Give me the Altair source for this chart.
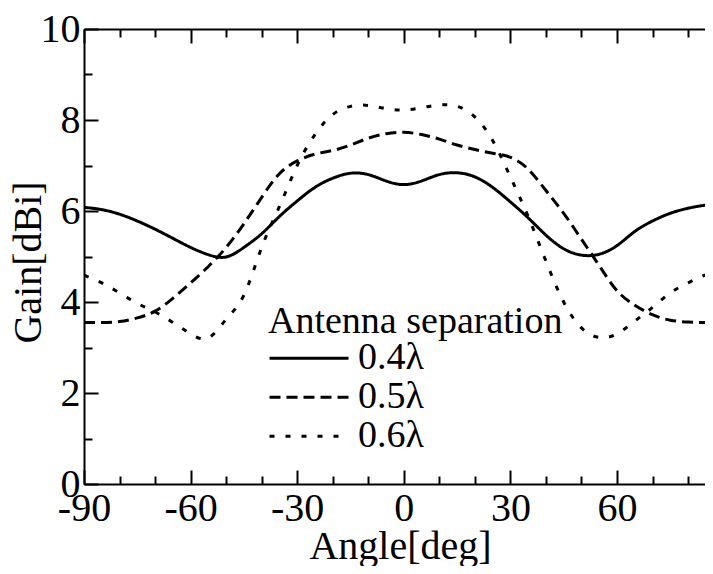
import altair as alt
import pandas as pd

angles = [-90, -85, -80, -75, -70, -65, -60, -55, -50, -45, -40, -35, -30, -25, -20, -15, -10, -5,
          0, 5, 10, 15, 20, 25, 30, 35, 40, 45, 50, 55, 60, 65, 70, 75, 80, 85, 90]

gain_04 = [6.08, 6.03, 5.93, 5.78, 5.60, 5.40, 5.20, 5.04, 4.99, 5.20, 5.50, 5.88, 6.22, 6.52, 6.72, 6.83, 6.80, 6.66,
           6.58, 6.66, 6.80, 6.84, 6.75, 6.52, 6.20, 5.85, 5.47, 5.17, 5.03, 5.05, 5.24, 5.55, 5.78, 5.95, 6.06, 6.13, 6.17]

gain_05 = [3.55, 3.55, 3.57, 3.65, 3.80, 4.08, 4.42, 4.78, 5.20, 5.72, 6.30, 6.82, 7.10, 7.25, 7.33, 7.45, 7.60, 7.70,
           7.73, 7.68, 7.58, 7.45, 7.35, 7.27, 7.18, 6.92, 6.45, 5.95, 5.38, 4.80, 4.25, 3.93, 3.72, 3.60, 3.56, 3.55, 3.55]

gain_06 = [4.59, 4.42, 4.20, 3.97, 3.78, 3.55, 3.30, 3.21, 3.62, 4.15, 5.20, 6.10, 7.00, 7.68, 8.12, 8.30, 8.32, 8.25,
           8.22, 8.27, 8.33, 8.30, 8.07, 7.55, 6.75, 5.88, 4.90, 4.00, 3.43, 3.22, 3.30, 3.58, 3.88, 4.20, 4.42, 4.60, 4.72]

separations = ["0.4λ", "0.5λ", "0.6λ"]
dashes = [[1, 0], [11, 6], [5, 11]]

x_major = [-90, -60, -30, 0, 30, 60, 90]
x_minor = [-80, -70, -50, -40, -20, -10, 10, 20, 40, 50, 70, 80]
y_major = [0, 2, 4, 6, 8, 10]
y_minor = [1, 3, 5, 7, 9]

rows = []
for sep, g in zip(separations, [gain_04, gain_05, gain_06]):
    for a, v in zip(angles, g):
        rows.append({"angle": a, "gain": v, "sep": sep})
df = pd.DataFrame(rows)

FONT = "Liberation Serif"
xs = alt.Scale(domain=[-90, 84.77], nice=False, zero=False)
ys = alt.Scale(domain=[0, 10], nice=False, zero=False)

lines = alt.Chart(df).mark_line(strokeWidth=3, color="black", clip=True, interpolate="natural").encode(
    x=alt.X("angle:Q", scale=xs, axis=alt.Axis(orient="bottom", values=x_major, ticks=False, grid=False,
                                                 domain=True, domainColor="black", domainWidth=2,
                                                 labelExpr="datum.value",
                                                 labelFontSize=40, labelPadding=4, labelFont=FONT,
                                                 labelColor="black", labelFlush=False,
                                                 title="Angle[deg]", titleFontSize=40, titleFont=FONT,
                                                 titleFontWeight="normal", titleColor="black",
                                                 titleX=316, titleY=42, titleAlign="center",
                                                 titleBaseline="top")),
    y=alt.Y("gain:Q", scale=ys, axis=alt.Axis(orient="left", values=y_major, ticks=False, grid=False,
                                               domain=True, domainColor="black", domainWidth=2,
                                               labelExpr="datum.value",
                                               labelFontSize=40, labelPadding=4, labelFont=FONT,
                                               labelColor="black", labelFlush=False,
                                               title="Gain[dBi]", titleFontSize=40, titleFont=FONT,
                                               titleFontWeight="normal", titleColor="black",
                                               titleX=-36, titleY=233, titleAngle=270, titleAlign="center",
                                               titleBaseline="bottom")),
    strokeDash=alt.StrokeDash("sep:N", scale=alt.Scale(domain=separations, range=dashes),
                              legend=alt.Legend(orient="none", legendX=184, legendY=274,
                                                title="Antenna separation", titleFontSize=38, titleFont=FONT,
                                                titleFontWeight="normal", titleColor="black", titlePadding=-2,
                                                titleLimit=500, labelLimit=300,
                                                labelFontSize=38, labelFont=FONT, labelColor="black",
                                                labelOffset=8, rowPadding=0, clipHeight=38.5,
                                                symbolType="stroke", symbolSize=6241, symbolStrokeWidth=3,
                                                symbolStrokeColor="black")),
)


def tick_layer(xorient, xvals, xsize, yorient=None, yvals=None, ysize=None):
    xaxis = alt.Axis(orient=xorient, values=xvals, offset=-xsize, tickSize=xsize,
                     tickWidth=2, tickColor="black", labels=False, domain=False, grid=False, title=None)
    if yorient is None:
        yenc = alt.Y("gain:Q", scale=ys, axis=None)
    else:
        yenc = alt.Y("gain:Q", scale=ys, axis=alt.Axis(orient=yorient, values=yvals, offset=-ysize,
                                                        tickSize=ysize, tickWidth=2, tickColor="black",
                                                        labels=False, domain=False, grid=False, title=None))
    return alt.Chart(df).mark_point(opacity=0).encode(
        x=alt.X("angle:Q", scale=xs, axis=xaxis),
        y=yenc,
    )


top_frame = alt.Chart(df).mark_point(opacity=0).encode(
    x=alt.X("angle:Q", scale=xs, axis=alt.Axis(orient="top", ticks=False, labels=False, grid=False,
                                                 domain=True, domainColor="black", domainWidth=2, title=None)),
    y=alt.Y("gain:Q", scale=ys, axis=None),
)

chart = alt.layer(
    lines,
    tick_layer("bottom", x_major, 14, "left", y_major, 14),
    tick_layer("bottom", x_minor, 8, "left", y_minor, 8),
    tick_layer("top", x_major, 14),
    tick_layer("top", x_minor, 8),
    top_frame,
).resolve_axis(x="independent", y="independent").properties(
    width=621, height=455,
    autosize=alt.AutoSizeParams(type="none"),
    padding={"left": 76, "top": 21, "right": 0, "bottom": 82},
).configure_view(strokeWidth=0).configure_axis(grid=False).configure(background="white")

chart.save("out.html", embed_options={"renderer": "svg", "actions": False})
